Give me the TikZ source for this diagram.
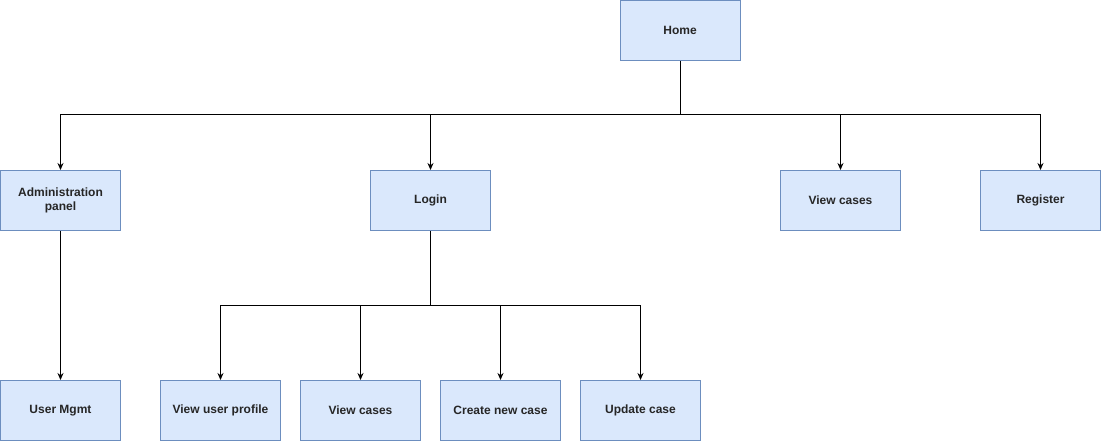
\documentclass[tikz,border=0pt]{standalone}
\usepackage{fontspec}
\setmainfont{Liberation Sans}
\usetikzlibrary{arrows.meta}
\definecolor{boxfill}{HTML}{DAE8FC}
\definecolor{boxline}{HTML}{6C8EBF}
\begin{document}
\begin{tikzpicture}[x=1pt,y=-1pt,
  box/.style={draw=boxline,fill=boxfill,line width=1pt,minimum width=120pt,minimum height=60pt,inner sep=0pt,align=center,font=\fontsize{12pt}{14pt}\selectfont\bfseries,text=black!85},
  conn/.style={line width=1pt,draw=black},
  arr/.style={conn,-{Stealth[length=7pt,width=6pt]}}]
\useasboundingbox (0,0) rectangle (1101,441);
\node[box] (home) at (680,30.5) {Home};
\node[box] (admin) at (60.5,200.5) {Administration\\panel};
\node[box] (login) at (430.5,200.5) {Login};
\node[box] (viewcases) at (840.5,200.5) {View cases};
\node[box] (register) at (1040.5,200.5) {Register};
\node[box] (usermgmt) at (60.5,410.5) {User Mgmt};
\node[box] (profile) at (220.5,410.5) {View user profile};
\node[box] (lviewcases) at (360.5,410.5) {View cases};
\node[box] (create) at (500.5,410.5) {Create new case};
\node[box] (update) at (640.5,410.5) {Update case};
\coordinate (hj) at (680,115);
\coordinate (lj) at (430.5,305);
\draw[conn] (home.south) -- (hj);
\draw[arr] (hj) -| (admin.north);
\draw[arr] (hj) -| (login.north);
\draw[arr] (hj) -| (viewcases.north);
\draw[arr] (hj) -| (register.north);
\draw[arr] (admin.south) -- (usermgmt.north);
\draw[conn] (login.south) -- (lj);
\draw[arr] (lj) -| (profile.north);
\draw[arr] (lj) -| (lviewcases.north);
\draw[arr] (lj) -| (create.north);
\draw[arr] (lj) -| (update.north);
\end{tikzpicture}
\end{document}
